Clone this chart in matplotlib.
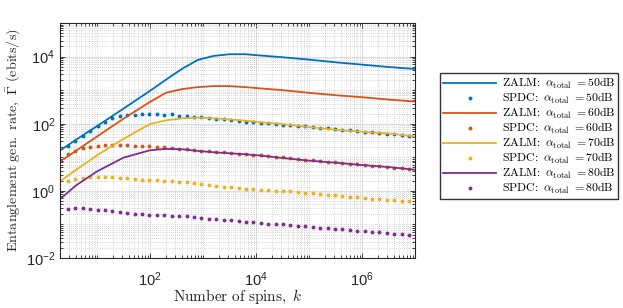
import numpy as np
import matplotlib
matplotlib.use("Agg")
import matplotlib.pyplot as plt
from matplotlib.ticker import FixedLocator, FuncFormatter, NullFormatter

plt.rcParams['mathtext.fontset'] = 'custom'
plt.rcParams['mathtext.rm'] = 'Liberation Sans'
plt.rcParams['mathtext.it'] = 'Liberation Sans:italic'
plt.rcParams['font.family'] = 'Liberation Sans'

# ZALM curves: log10 k grid and log10 of rate (ebits/s)
zalm_logk = [0.30, 0.6, 1.0, 1.5, 2.0, 2.3, 2.6, 2.9, 3.2, 3.5, 3.8, 4.1, 4.5, 5.0, 5.5, 6.0, 6.5, 7.0]
zalm_50 = [1.20, 1.52, 1.93, 2.45, 2.98, 3.31, 3.63, 3.90, 4.02, 4.07, 4.07, 4.03, 3.98, 3.91, 3.83, 3.76, 3.69, 3.63]
zalm_60 = [0.87, 1.19, 1.62, 2.15, 2.65, 2.92, 3.03, 3.09, 3.12, 3.12, 3.09, 3.05, 3.00, 2.92, 2.85, 2.79, 2.72, 2.66]
zalm_70 = [0.28, 0.62, 1.06, 1.55, 1.99, 2.10, 2.16, 2.18, 2.16, 2.13, 2.09, 2.04, 1.99, 1.90, 1.82, 1.76, 1.71, 1.62]
zalm_80 = [-0.25, 0.16, 0.58, 0.99, 1.21, 1.25, 1.24, 1.19, 1.15, 1.12, 1.09, 1.05, 0.98, 0.90, 0.84, 0.77, 0.71, 0.63]

# SPDC points: log10 k and log10 of rate
spdc_logk = [0.45, 0.59, 0.73, 0.87, 1.01, 1.15, 1.29, 1.43, 1.57, 1.71, 1.85, 1.99,
             2.13, 2.27, 2.41, 2.55, 2.69, 2.83, 2.97, 3.11, 3.25, 3.39, 3.53, 3.67,
             3.81, 3.95, 4.09, 4.23, 4.37, 4.51, 4.65, 4.79, 4.93, 5.07, 5.21, 5.35,
             5.49, 5.63, 5.77, 5.91, 6.05, 6.19, 6.33, 6.47, 6.61, 6.75, 6.89]
spdc_50 = [1.35, 1.50, 1.64, 1.79, 1.93, 2.06, 2.17, 2.22, 2.25, 2.27, 2.28, 2.28,
           2.28, 2.27, 2.28, 2.24, 2.23, 2.21, 2.19, 2.16, 2.14, 2.13, 2.11, 2.09,
           2.06, 2.05, 2.03, 2.01, 1.99, 1.97, 1.96, 1.94, 1.92, 1.90, 1.88, 1.86,
           1.84, 1.82, 1.80, 1.78, 1.76, 1.74, 1.72, 1.70, 1.68, 1.66, 1.64]
spdc_60 = [1.10, 1.19, 1.27, 1.32, 1.34, 1.36, 1.36, 1.36, 1.36, 1.35, 1.34, 1.33,
           1.32, 1.31, 1.29, 1.25, 1.24, 1.22, 1.20, 1.18, 1.17, 1.15, 1.13, 1.11,
           1.09, 1.08, 1.06, 1.04, 1.02, 1.00, 0.98, 0.95, 0.93, 0.91, 0.89, 0.87,
           0.85, 0.83, 0.81, 0.79, 0.77, 0.75, 0.73, 0.71, 0.69, 0.67, 0.65]
spdc_70 = [0.30, 0.35, 0.39, 0.41, 0.41, 0.41, 0.40, 0.39, 0.37, 0.35, 0.33, 0.32,
           0.31, 0.30, 0.29, 0.27, 0.25, 0.22, 0.20, 0.17, 0.15, 0.13, 0.11, 0.09,
           0.07, 0.05, 0.03, 0.02, 0.01, 0.00, -0.01, -0.03, -0.05, -0.07, -0.09, -0.11,
           -0.13, -0.15, -0.17, -0.19, -0.21, -0.23, -0.25, -0.27, -0.28, -0.30, -0.31]
spdc_80 = [-0.54, -0.51, -0.52, -0.54, -0.56, -0.58, -0.61, -0.63, -0.66, -0.68, -0.70, -0.71,
           -0.72, -0.73, -0.74, -0.75, -0.76, -0.79, -0.81, -0.83, -0.84, -0.86, -0.88, -0.90,
           -0.92, -0.94, -0.96, -0.98, -0.99, -1.00, -1.01, -1.04, -1.06, -1.08, -1.10, -1.11,
           -1.13, -1.15, -1.17, -1.19, -1.20, -1.22, -1.24, -1.26, -1.27, -1.29, -1.31]

losses = [50, 60, 70, 80]
colors = ['#0072BD', '#D95319', '#EDB120', '#7E2F8E']
zalm = [zalm_50, zalm_60, zalm_70, zalm_80]
spdc = [spdc_50, spdc_60, spdc_70, spdc_80]

fig = plt.figure(figsize=(6.23, 3.08), dpi=100)
ax = fig.add_axes([0.0963, 0.1623, 0.5698, 0.7630])

kz = 10.0 ** np.array(zalm_logk)
ks = 10.0 ** np.array(spdc_logk)
for L, c, z, s in zip(losses, colors, zalm, spdc):
    ax.plot(kz, 10.0 ** np.array(z), color=c, lw=1.3,
            label=r'$\mathrm{ZALM\!:}\ \alpha_{\mathrm{total}}\ \mathrm{=%ddB}$' % L)
    ax.plot(ks, 10.0 ** np.array(s), ls='none', marker='o', ms=2.8, mew=0, color=c,
            label=r'$\mathrm{SPDC\!:}\ \alpha_{\mathrm{total}}\ \mathrm{=%ddB}$' % L)

ax.set_xscale('log')
ax.set_yscale('log')
ax.set_xlim(2, 1e7)
ax.set_ylim(1e-2, 1e5)

# ticks like MATLAB: majors every two decades, minors everywhere else
xmaj = [1e2, 1e4, 1e6]
ymaj = [1e-2, 1e0, 1e2, 1e4]
xmin = [m * 10.0 ** d for d in range(0, 7) for m in range(1, 10) if m * 10.0 ** d not in xmaj]
ymin = [m * 10.0 ** d for d in range(-2, 5) for m in range(1, 10) if m * 10.0 ** d not in ymaj]
ax.xaxis.set_major_locator(FixedLocator(xmaj))
ax.yaxis.set_major_locator(FixedLocator(ymaj))
ax.xaxis.set_minor_locator(FixedLocator(xmin))
ax.yaxis.set_minor_locator(FixedLocator(ymin))
ax.xaxis.set_minor_formatter(NullFormatter())
ax.yaxis.set_minor_formatter(NullFormatter())
fmt = FuncFormatter(lambda v, p: r'$10^{%d}$' % int(round(np.log10(v))))
ax.xaxis.set_major_formatter(fmt)
ax.yaxis.set_major_formatter(fmt)

ax.tick_params(which='both', direction='in', top=True, right=True, colors='#262626',
               labelsize=10.5, width=0.6)
ax.tick_params(which='major', length=3.5)
ax.tick_params(which='minor', length=2)
ax.tick_params(axis='x', pad=9)

ax.grid(which='major', color='#dcdcdc', lw=0.7, ls='-')
ax.grid(which='minor', color='#b4b4b4', lw=0.5, ls=(0, (1, 2)))
ax.set_axisbelow(True)
for sp in ax.spines.values():
    sp.set_color('#262626')
    sp.set_linewidth(0.8)

ax.set_xlabel(r'$\mathrm{Number\ of\ spins,}\ k$', fontsize=11, math_fontfamily='cm',
              color='#262626', labelpad=-1)
ax.set_ylabel(r'$\mathrm{Entanglement\ gen.\ rate,}\ \bar{\Gamma}\ \mathrm{(ebits/s)}$',
              fontsize=10.2, math_fontfamily='cm', color='#262626', labelpad=2)

leg = fig.legend(loc='upper right', bbox_to_anchor=(0.992, 0.764),
                 frameon=True, fancybox=False, edgecolor='black', handlelength=4.5,
                 handletextpad=0.45, labelspacing=0.0, borderpad=0.25, borderaxespad=0,
                 prop={'math_fontfamily': 'cm', 'size': 8.5})
leg.get_frame().set_linewidth(1.0)

fig.savefig('out.png', dpi=100)
